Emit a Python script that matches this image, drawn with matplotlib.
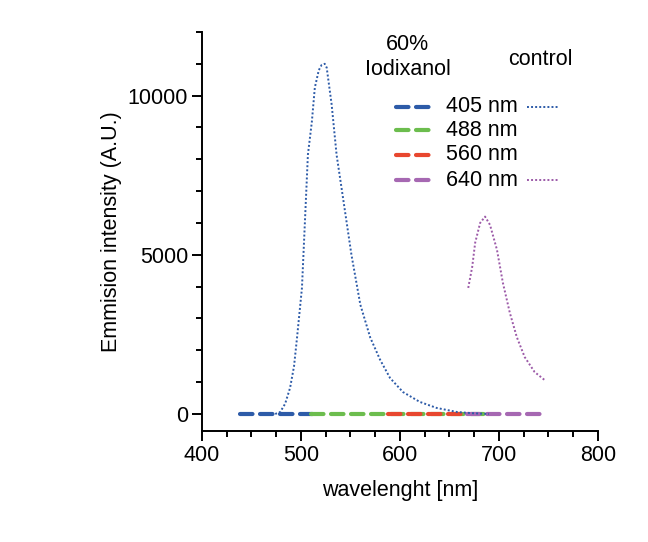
import matplotlib
matplotlib.use('Agg')
import matplotlib.pyplot as plt
from matplotlib.ticker import MultipleLocator

plt.rcParams['font.family'] = ['Liberation Sans', 'DejaVu Sans']

# 60% Iodixanol, flat near zero (start / end wavelength of each trace)
IODIX_LABELS = ['405 nm', '488 nm', '560 nm', '640 nm']
IODIX_COLORS = ['#2d5ba8', '#6cbd4e', '#e8472f', '#a668b2']
IODIX_WL = [[438, 512], [510, 685], [588, 668], [668, 744]]
IODIX_VAL = [[0, 0], [0, 0], [0, 0], [0, 0]]

# control, 405 nm excitation
CTRL405_WL = [474, 479, 484, 489, 493, 496, 501, 504, 507, 511, 514, 518, 521, 524, 526, 531,
              536, 542, 551, 560, 570, 580, 590, 603, 620, 637, 658, 675, 690]
CTRL405_VAL = [0, 60, 320, 820, 1500, 2390, 3960, 6040, 8140, 9180, 10250, 10800, 10970, 11000,
               10880, 9720, 8140, 6890, 5000, 3430, 2400, 1700, 1130, 690, 380, 190, 60, 20, 0]

# control, 640 nm excitation
CTRL640_WL = [669, 673, 676, 681, 686, 691, 698, 704, 711, 718, 726, 736, 746]
CTRL640_VAL = [3960, 4620, 5380, 6000, 6200, 5940, 5160, 4120, 3180, 2420, 1790, 1320, 1070]

fig = plt.figure(figsize=(6.48, 5.42), dpi=100)
ax = fig.add_axes([0.3117, 0.2048, 0.611, 0.7362])

for wl, val, col in zip(IODIX_WL, IODIX_VAL, IODIX_COLORS):
	ax.plot(wl, val, color=col, lw=3.0, linestyle=(0, (3.0, 1.8)),
			dash_capstyle='round', zorder=2)

ax.plot(CTRL405_WL, CTRL405_VAL, color='#2d5ba8', lw=1.4, linestyle=(0, (1, 1.1)), zorder=3)
ax.plot(CTRL640_WL, CTRL640_VAL, color='#9c5aa8', lw=1.4, linestyle=(0, (1, 1.1)), zorder=3)

ax.set_xlim(400, 800)
ax.set_ylim(-535, 12000)
ax.xaxis.set_major_locator(MultipleLocator(100))
ax.xaxis.set_minor_locator(MultipleLocator(25))
ax.yaxis.set_major_locator(MultipleLocator(5000))
ax.yaxis.set_minor_locator(MultipleLocator(1000))

for side in ['top', 'right']:
	ax.spines[side].set_visible(False)
for side in ['left', 'bottom']:
	ax.spines[side].set_linewidth(1.4)
ax.tick_params(which='major', length=7, width=1.4, labelsize=15.5, pad=3)
ax.tick_params(which='minor', length=4.5, width=1.4)

ax.set_xlabel('wavelenght [nm]', fontsize=15.5, labelpad=10)
ax.set_ylabel('Emmision intensity (A.U.)', fontsize=15.5, labelpad=4)

# legend drawn by hand
ax.text(0.52, 0.937, '60%\nIodixanol', transform=ax.transAxes, ha='center', va='center',
		fontsize=15.5, linespacing=1.25)
ax.text(0.854, 0.93, 'control', transform=ax.transAxes, ha='center', va='center', fontsize=15.5)
row_y = [0.812, 0.754, 0.692, 0.629]
for i, (lab, col) in enumerate(zip(IODIX_LABELS, IODIX_COLORS)):
	ax.plot([0.489, 0.574], [row_y[i], row_y[i]], transform=ax.transAxes, color=col, lw=3.0,
			linestyle=(0, (3.0, 1.8)), dash_capstyle='round', clip_on=False)
	ax.text(0.616, row_y[i], lab, transform=ax.transAxes, ha='left', va='center', fontsize=15.5)
ax.plot([0.821, 0.899], [row_y[0], row_y[0]], transform=ax.transAxes, color='#2d5ba8', lw=1.4,
		linestyle=(0, (1, 1.1)), clip_on=False)
ax.plot([0.821, 0.899], [row_y[3], row_y[3]], transform=ax.transAxes, color='#9c5aa8', lw=1.4,
		linestyle=(0, (1, 1.1)), clip_on=False)

fig.savefig('out.png', dpi=100)
